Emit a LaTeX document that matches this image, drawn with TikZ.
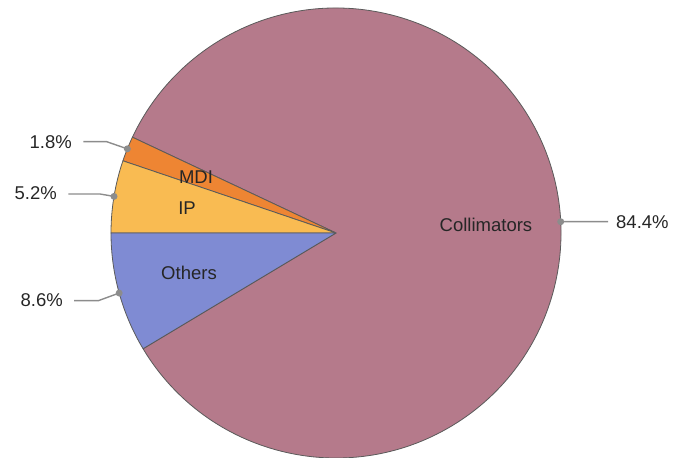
\documentclass[tikz,border=0pt]{standalone}
\usepackage{fontspec}
\setmainfont{Liberation Sans}
\definecolor{collcol}{HTML}{B57A8B}
\definecolor{mdicol}{HTML}{EE8533}
\definecolor{ipcol}{HTML}{F9BB52}
\definecolor{othcol}{HTML}{7F8BD3}
\definecolor{leadcol}{HTML}{8C8C8C}
\definecolor{edgecol}{HTML}{5A5A5A}
\begin{document}
\begin{tikzpicture}[x=1pt,y=1pt]
      \tikzstyle{slice}=[draw=edgecol,line width=0.8pt,line join=round]
      \tikzstyle{lead}=[draw=leadcol,line width=1.4pt]
      \tikzstyle{dot}=[circle,fill=leadcol,inner sep=0pt,minimum size=7pt]
      \tikzstyle{pct}=[inner sep=0pt,font=\fontsize{18.5}{22}\selectfont,text=black!85]
      \tikzstyle{slicelabel}=[inner sep=0pt,font=\fontsize{18.5}{22}\selectfont,text=black!85]
      \useasboundingbox (0,0) rectangle (681,458);
      \coordinate (c) at (336,225);
      \begin{scope}[shift={(c)}]
        \draw[slice,fill=collcol] (0,0) -- (210.96:225) arc (210.96:514.8:225) -- cycle;
        \draw[slice,fill=mdicol] (0,0) -- (154.8:225) arc (154.8:161.28:225) -- cycle;
        \draw[slice,fill=ipcol] (0,0) -- (161.28:225) arc (161.28:180:225) -- cycle;
        \draw[slice,fill=othcol] (0,0) -- (180:225) arc (180:210.96:225) -- cycle;
        \coordinate (mdi-d) at (158.04:225);
        \coordinate (ip-d) at (170.64:225);
        \coordinate (oth-d) at (195.48:225);
        \coordinate (coll-d) at (2.88:225);
      \end{scope}
      % slice names
      \node[slicelabel] (mdi) at (196,281) {MDI};
      \node[slicelabel] (ip) at (187,250) {IP};
      \node[slicelabel] (oth) at (189,185) {Others};
      \node[slicelabel] (coll) at (486,233) {Collimators};
      % percentages with leaders
      \node[pct,anchor=east] (mdi-p) at (72,316) {1.8\%};
      \node[pct,anchor=east] (ip-p) at (57,264.5) {5.2\%};
      \node[pct,anchor=east] (oth-p) at (63,157.5) {8.6\%};
      \node[pct,anchor=west] (coll-p) at (616,236) {84.4\%};
      \coordinate (mdi-b) at (106.7,316.3);
      \coordinate (mdi-e) at (83.3,316.3);
      \coordinate (ip-b) at (100,264);
      \coordinate (ip-e) at (68.3,264);
      \coordinate (oth-b) at (98.3,157.3);
      \coordinate (oth-e) at (74,157.3);
      \coordinate (coll-b) at (575,236.3);
      \coordinate (coll-e) at (608,236.3);
      \foreach \p in {mdi,ip,oth,coll}
        \draw[lead] (\p-d) -- (\p-b) -- (\p-e);
      \foreach \p in {mdi,ip,oth,coll}
        \node[dot] at (\p-d) {};
\end{tikzpicture}
\end{document}
